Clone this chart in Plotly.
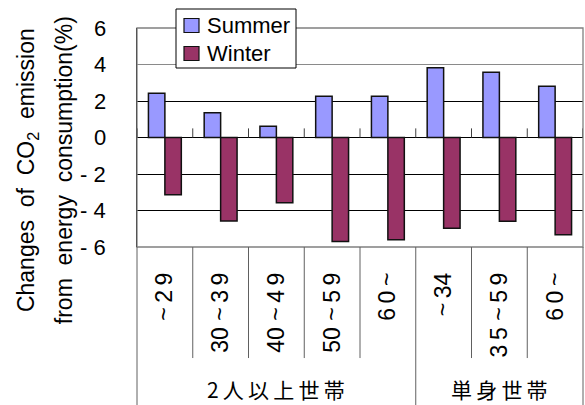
import plotly.graph_objects as go

# ---- data ----
age_labels = ["~\u20092\u20099", "30 ~\u20093\u20099", "40 ~\u20094\u20099", "50 ~\u20095\u20099",
              "6\u20090\u2009~", "~\u200934", "3\u20095 ~\u20095\u20099", "6\u20090\u2009~"]
group_labels = ["2\u2009人\u2009以\u2009上\u2009世\u2009帯", "単\u2009身\u2009世\u2009帯"]
group_sizes = [5, 3]
series_names = ["Summer", "Winter"]
series_colors = ["#9999FF", "#993366"]
summer = [2.43, 1.35, 0.62, 2.26, 2.26, 3.82, 3.58, 2.81]
winter = [-3.14, -4.58, -3.58, -5.70, -5.60, -4.97, -4.59, -5.33]
y_tickvals = [-6, -4, -2, 0, 2, 4, 6]
y_ticktext = ["- 6", "- 4", "- 2", "0", "2", "4", "6"]
title_line1 = "Changes  of  CO<sub>2</sub>  emission"
title_line2 = "from  energy  consumption(%)"

FONT = "Liberation Sans, Arial, Noto Sans CJK JP, sans-serif"
LAT = "Liberation Sans"
CJK = "Noto Sans CJK JP, Liberation Sans, sans-serif"

xpos = list(range(len(age_labels)))

W, H = 585, 405
L, R, T, B = 137, 2, 28, 158
PW, PH = W - L - R, H - T - B


def px_x(px):
    return (px - L) / PW


def px_y(py):
    return (H - B - py) / PH


fig = go.Figure()
for name, vals, col in zip(series_names, [summer, winter], series_colors):
    fig.add_trace(go.Bar(x=xpos, y=vals, name=name,
                         marker=dict(color=col, line=dict(color="#111111", width=1.5))))

shapes = []
shapes.append(dict(type="rect", xref="paper", yref="paper", x0=0, x1=1, y0=0, y1=1,
                   line=dict(color="#808080", width=1.3), layer="above"))
shapes.append(dict(type="line", xref="paper", yref="y", x0=0, x1=1, y0=4, y1=4,
                   line=dict(color="#8a8a8a", width=1)))
for i in range(len(age_labels) + 1):
    shapes.append(dict(type="line", xref="x", yref="y", x0=i - 0.5, x1=i - 0.5, y0=0, y1=0.5,
                       line=dict(color="#404040", width=1)))
bounds = []
acc = 0
for s in group_sizes:
    acc += s
    bounds.append(acc)
for i in range(1, len(age_labels)):
    full = i in bounds
    shapes.append(dict(type="line", xref="x", yref="paper", x0=i - 0.5, x1=i - 0.5,
                       y0=0, y1=-0.75 if full else -0.507,
                       line=dict(color="#606060", width=1)))
shapes.append(dict(type="line", xref="paper", yref="paper", x0=0, x1=0, y0=0, y1=-0.75,
                   line=dict(color="#606060", width=1)))
shapes.append(dict(type="line", xref="paper", yref="paper", x0=1, x1=1, y0=0, y1=-0.75,
                   line=dict(color="#606060", width=1)))

# legend box (drawn by hand to match the original compact box)
shapes.append(dict(type="rect", xref="paper", yref="paper",
                   x0=px_x(176), x1=px_x(296), y0=px_y(68), y1=px_y(9),
                   fillcolor="white", line=dict(color="black", width=1), layer="above"))

annotations = []
for k, (name, col) in enumerate(zip(series_names, series_colors)):
    cy = 25.5 + 28 * k
    shapes.append(dict(type="rect", xref="paper", yref="paper",
                       x0=px_x(184), x1=px_x(199), y0=px_y(cy + 7), y1=px_y(cy - 7),
                       fillcolor=col, line=dict(color="#111111", width=1.2), layer="above"))
    annotations.append(dict(text=name, xref="paper", yref="paper", x=px_x(205), y=px_y(cy),
                            xanchor="left", yanchor="middle", showarrow=False,
                            font=dict(family=FONT, size=22, color="black")))

# y tick labels
for v, t in zip(y_tickvals, y_ticktext):
    annotations.append(dict(text=t, xref="paper", yref="y", x=px_x(108), y=v,
                            xanchor="right", yanchor="middle", align="right", showarrow=False,
                            font=dict(family=LAT, size=22, color="black")))

start = 0
for g, s in zip(group_labels, group_sizes):
    center = start + (s - 1) / 2
    annotations.append(dict(text=g, xref="x", yref="paper", x=center, y=-0.65,
                            xanchor="center", yanchor="middle", showarrow=False,
                            font=dict(family=CJK, size=21, color="black")))
    start += s
annotations.append(dict(text=title_line1, xref="paper", yref="paper", x=-0.245, y=0.35,
                        xanchor="center", yanchor="middle", showarrow=False, textangle=-90,
                        font=dict(family=FONT, size=23, color="black")))
annotations.append(dict(text=title_line2, xref="paper", yref="paper", x=-0.164, y=0.35,
                        xanchor="center", yanchor="middle", showarrow=False, textangle=-90,
                        font=dict(family=FONT, size=23, color="black")))

fig.update_layout(
    width=W, height=H,
    margin=dict(l=L, r=R, t=T, b=B),
    paper_bgcolor="white", plot_bgcolor="white",
    barmode="group", bargap=0.41, bargroupgap=0,
    font=dict(family=FONT, color="black"),
    showlegend=False,
    xaxis=dict(range=[-0.5, len(age_labels) - 0.5], tickvals=xpos, ticktext=age_labels,
               tickangle=-90, showgrid=False, zeroline=False, showline=False, ticks="",
               ticklabelstandoff=20, tickfont=dict(family=FONT, size=23, color="black")),
    yaxis=dict(range=[-6, 6], tickvals=y_tickvals, showticklabels=False,
               showgrid=True, gridcolor="black", gridwidth=1,
               zeroline=True, zerolinecolor="black", zerolinewidth=1,
               showline=True, linecolor="black", linewidth=1,
               ticks="inside", ticklen=4, tickcolor="black"),
    shapes=shapes, annotations=annotations,
)

fig.write_html("out.html")
